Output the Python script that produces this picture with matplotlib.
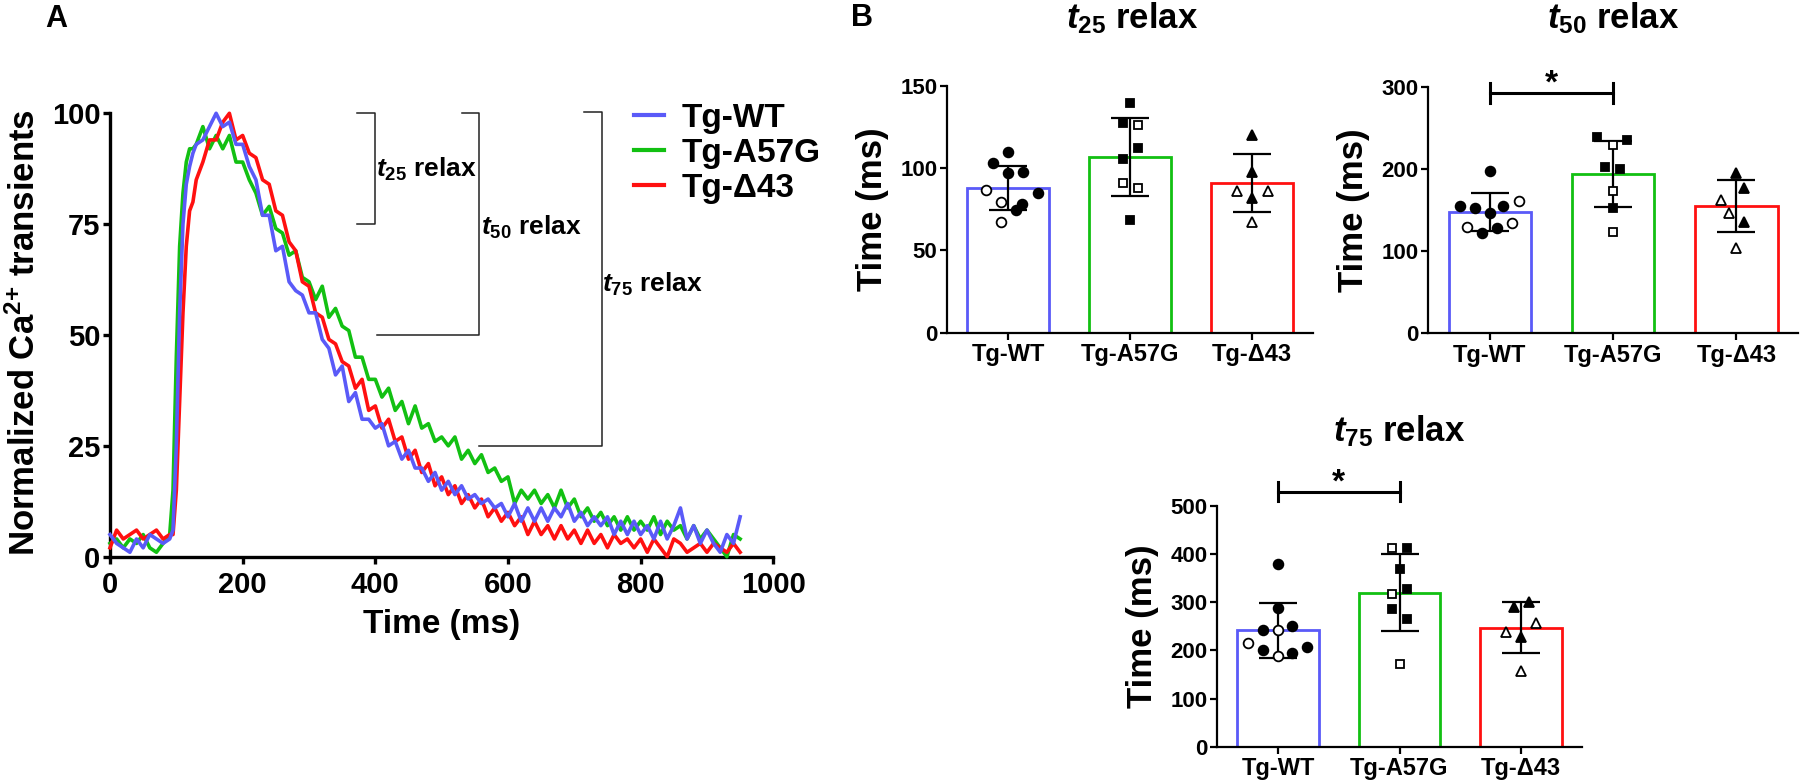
import matplotlib
matplotlib.use('Agg')
import matplotlib.pyplot as plt
import numpy as np
from matplotlib.lines import Line2D

plt.rcParams['font.family'] = ['Liberation Sans', 'DejaVu Sans']
plt.rcParams['font.weight'] = 'bold'
plt.rcParams['axes.labelweight'] = 'bold'
plt.rcParams['mathtext.fontset'] = 'custom'
plt.rcParams['mathtext.rm'] = 'Liberation Sans:bold'
plt.rcParams['mathtext.it'] = 'Liberation Sans:italic:bold'
plt.rcParams['mathtext.bf'] = 'Liberation Sans:bold'

# ---------------- data: panel A (normalized Ca2+ transients) ----------------
time_ms = list(range(0, 91, 10)) + list(range(95, 131, 5)) + list(range(140, 951, 10))

trace_wt = [5, 3, 2, 1, 4, 2, 5, 4, 3, 4,
            6, 25, 55, 75, 84, 88, 91, 93,
            94, 97, 100, 97, 98, 93, 93, 88, 85, 77,
            77, 69, 70, 62, 60, 59, 55, 55, 49, 47,
            41, 43, 35, 37, 31, 31, 29, 30, 25, 26,
            22, 24, 20, 20, 17, 19, 15, 17, 14, 16,
            13, 14, 12, 13, 11, 12, 9, 12, 8, 11,
            8, 11, 8, 11, 9, 12, 8, 10, 7, 9,
            7, 9, 5, 8, 5, 8, 5, 7, 4, 8,
            4, 7, 11, 4, 7, 3, 6, 3, 1, 5,
            3, 9]
trace_a57g = [3, 4, 2, 4, 3, 5, 2, 1, 3, 5,
              15, 45, 70, 82, 89, 92, 92, 93,
              97, 92, 95, 92, 95, 89, 89, 85, 82, 77,
              79, 74, 73, 68, 69, 63, 62, 58, 61, 54,
              56, 52, 51, 45, 45, 40, 40, 36, 38, 33,
              35, 30, 34, 29, 30, 26, 27, 25, 27, 22,
              24, 21, 23, 19, 20, 17, 18, 12, 15, 13,
              15, 12, 14, 11, 15, 11, 13, 9, 11, 8,
              10, 7, 9, 6, 9, 6, 8, 6, 9, 5,
              8, 6, 7, 4, 7, 4, 6, 4, 2, 0,
              5, 4]
trace_d43 = [2, 6, 4, 5, 6, 4, 5, 6, 4, 5,
             5, 15, 35, 55, 70, 78, 80, 85,
             89, 94, 94, 98, 100, 94, 95, 91, 90, 85,
             84, 78, 77, 71, 69, 62, 61, 55, 54, 49,
             48, 44, 43, 38, 40, 33, 34, 29, 31, 26,
             27, 22, 24, 19, 21, 16, 18, 14, 16, 12,
             14, 11, 13, 9, 11, 8, 10, 7, 9, 5,
             8, 5, 7, 4, 7, 4, 6, 3, 6, 3,
             5, 2, 5, 3, 4, 2, 4, 1, 4, 2,
             0, 4, 3, 1, 2, 3, 1, 3, 2, 1,
             3, 1]

groups = ['Tg-WT', 'Tg-A57G', 'Tg-\u039443']
colors = ['#5a5af8', '#12c012', '#ff1010']
markers = ['o', 's', '^']

# ---------------- data: panel B ----------------
t25_mean = [88, 107, 91]
t25_sd = [13.4, 23.6, 17.7]
t25_vals = [[103, 110, 97, 98, 84.7, 78, 74.6, 86.8, 79.7, 67.5],
            [139.9, 127.3, 112, 105.8, 68.5, 126, 90.8, 88.2],
            [120.2, 98, 81.7, 86, 86, 67.5]]
t25_dx = [[-0.125, 0.0, 0.0, 0.12, 0.24, 0.115, 0.06, -0.185, -0.06, -0.06],
          [0.0, -0.062, 0.062, -0.062, 0.0, 0.062, -0.062, 0.062],
          [0.0, 0.0, 0.0, -0.122, 0.127, 0.0]]
t25_open = [[0, 0, 0, 0, 0, 0, 0, 1, 1, 1],
            [0, 0, 0, 0, 0, 1, 1, 1],
            [0, 0, 0, 1, 1, 1]]

t50_mean = [148, 194, 155]
t50_sd = [23, 40.5, 32]
t50_vals = [[197.8, 155.3, 152, 155.3, 146.8, 122.4, 127.7, 161, 129.7, 133.8],
            [239.2, 235.1, 202.7, 199.5, 152, 229, 173.1, 122.8],
            [194.6, 176.4, 135.8, 162.2, 146.8, 104.2]]
t50_dx = [[0.0, -0.24, -0.12, 0.11, 0.0, -0.068, 0.054, 0.238, -0.19, 0.178],
          [-0.127, 0.116, -0.065, 0.057, 0.0, 0.0, 0.0, 0.0],
          [0.0, 0.062, 0.062, -0.122, -0.059, 0.0]]
t50_open = [[0, 0, 0, 0, 0, 0, 0, 1, 1, 1],
            [0, 0, 0, 0, 0, 1, 1, 1],
            [0, 0, 0, 1, 1, 1]]

t75_mean = [242, 320, 247]
t75_sd = [57, 80.5, 53]
t75_vals = [[378.8, 287.4, 242.4, 250.7, 200.8, 195.3, 206.4, 214.7, 242.4, 188.4],
            [412, 368.4, 327.6, 285.3, 264.5, 412, 317.2, 171.7],
            [290.9, 301.2, 227.1, 238.9, 256.2, 157.9]]
t75_dx = [[0.0, 0.0, -0.122, 0.119, -0.122, 0.119, 0.238, -0.246, 0.0, 0.0],
          [0.061, 0.0, 0.061, -0.058, 0.061, -0.058, -0.058, 0.0],
          [-0.055, 0.064, 0.0, -0.124, 0.125, 0.0]]
t75_open = [[0, 0, 0, 0, 0, 0, 0, 1, 1, 1],
            [0, 0, 0, 0, 0, 1, 1, 1],
            [0, 0, 0, 1, 1, 1]]

# significance: (group i, group j, line level, cap half-height)
t50_sig = (0, 1, 292.7, 12)
t75_sig = (0, 1, 529.8, 20)

# ---------------- figure ----------------
W, H = 1800, 784
fig = plt.figure(figsize=(W / 100, H / 100), dpi=100)


def rect(l, t, r, b):
    return [l / W, 1 - b / H, (r - l) / W, (b - t) / H]


def fx(x):
    return x / W


def fy(y):
    return 1 - y / H


# ---- Panel A ----
axA = fig.add_axes(rect(110, 113.3, 773.3, 556.7))
for tr, c in [(trace_a57g, colors[1]), (trace_d43, colors[2]), (trace_wt, colors[0])]:
    axA.plot(time_ms, tr, color=c, lw=2.6, clip_on=False, zorder=3)
axA.set_xlim(0, 1000)
axA.set_ylim(0, 100)
axA.set_xticks(range(0, 1001, 200))
axA.set_yticks([0, 25, 50, 75, 100])
for s in ['top', 'right']:
    axA.spines[s].set_visible(False)
for s in ['left', 'bottom']:
    axA.spines[s].set_linewidth(2.4)
axA.tick_params(width=2.4, length=5, labelsize=21, direction='out')
axA.tick_params(axis='x', pad=5.5)
axA.tick_params(axis='y', pad=2)
axA.set_xlabel('Time (ms)', fontsize=24)
axA.xaxis.set_label_coords(0.5, -0.118)
axA.set_ylabel('Normalized Ca$^{2{+}}$ transients', fontsize=25)
axA.yaxis.set_label_coords(-0.103, 0.505)

# relaxation brackets
bk = dict(color='#222222', lw=1.1, clip_on=False, zorder=2)
axA.plot([373, 399, 399, 373], [100, 100, 75, 75], **bk)
axA.plot([530, 557, 557, 402], [100, 100, 50, 50], **bk)
axA.plot([714, 741, 741, 557], [100.3, 100.3, 25, 25], **bk)
axA.text(401, 87.3, r'$t_{25}$ relax', fontsize=19, va='center', ha='left')
axA.text(560, 74.3, r'$t_{50}$ relax', fontsize=19, va='center', ha='left')
axA.text(742, 61.4, r'$t_{75}$ relax', fontsize=19, va='center', ha='left')

handles = [Line2D([], [], color=c, lw=3) for c in colors]
fig.legend(handles, groups, loc='upper left', bbox_to_anchor=(fx(634), fy(102.5)),
           frameon=False, fontsize=24, handlelength=0.9, handletextpad=0.54,
           labelspacing=0.13, borderpad=0, borderaxespad=0)

fig.text(fx(56), fy(19), 'A', fontsize=22, ha='center', va='center')
fig.text(fx(862), fy(18), 'B', fontsize=22, ha='center', va='center')


# ---- Panel B ----
def bar_panel(ax, means, sds, vals, dxs, opens, ylim, yticks, sig=None):
    x = np.arange(3)
    ax.bar(x, means, width=0.67, facecolor='white', edgecolor=colors, linewidth=2.0, zorder=2)
    ax.errorbar(x, means, yerr=sds, fmt='none', ecolor='black', elinewidth=1.6,
                capsize=14, capthick=1.6, zorder=3)
    for i in range(3):
        for v, d, o in zip(vals[i], dxs[i], opens[i]):
            ax.plot(i + d, v, marker=markers[i], ms=6.4 if markers[i] == 's' else 7,
                    mfc='white' if o else 'black', mec='black', mew=1.3,
                    ls='none', zorder=4, clip_on=False)
    ax.set_xlim(-0.5, 2.5)
    ax.set_ylim(*ylim)
    ax.set_yticks(yticks)
    ax.set_xticks(x, groups)
    for s in ['top', 'right']:
        ax.spines[s].set_visible(False)
    for s in ['left', 'bottom']:
        ax.spines[s].set_linewidth(1.6)
    ax.tick_params(width=1.6, length=5, direction='out')
    ax.tick_params(axis='y', labelsize=16, pad=2)
    ax.tick_params(axis='x', labelsize=17, pad=2.5)
    ax.set_ylabel('Time (ms)', fontsize=25, labelpad=8)
    if sig is not None:
        i, j, lvl, cap = sig
        ax.plot([i, j], [lvl, lvl], color='black', lw=2.2, clip_on=False)
        ax.plot([i, i], [lvl - cap, lvl + cap], color='black', lw=2.2, clip_on=False)
        ax.plot([j, j], [lvl - cap, lvl + cap], color='black', lw=2.2, clip_on=False)
        ax.text((i + j) / 2, lvl, '*', fontsize=24, ha='center', va='baseline', clip_on=False)


ax25 = fig.add_axes(rect(947.3, 86, 1313, 332.7))
bar_panel(ax25, t25_mean, t25_sd, t25_vals, t25_dx, t25_open, (0, 150), [0, 50, 100, 150])
ax50 = fig.add_axes(rect(1428.3, 86.7, 1798, 333.3))
bar_panel(ax50, t50_mean, t50_sd, t50_vals, t50_dx, t50_open, (0, 300), [0, 100, 200, 300], t50_sig)
ax75 = fig.add_axes(rect(1217.3, 506, 1581.7, 746.7))
bar_panel(ax75, t75_mean, t75_sd, t75_vals, t75_dx, t75_open, (0, 500), [0, 100, 200, 300, 400, 500], t75_sig)

fig.text(fx(1132), fy(28), r'$t_{25}$ relax', fontsize=25, ha='center', va='baseline')
fig.text(fx(1613), fy(28), r'$t_{50}$ relax', fontsize=25, ha='center', va='baseline')
fig.text(fx(1399), fy(441), r'$t_{75}$ relax', fontsize=25, ha='center', va='baseline')

fig.savefig('out.png', dpi=100)
